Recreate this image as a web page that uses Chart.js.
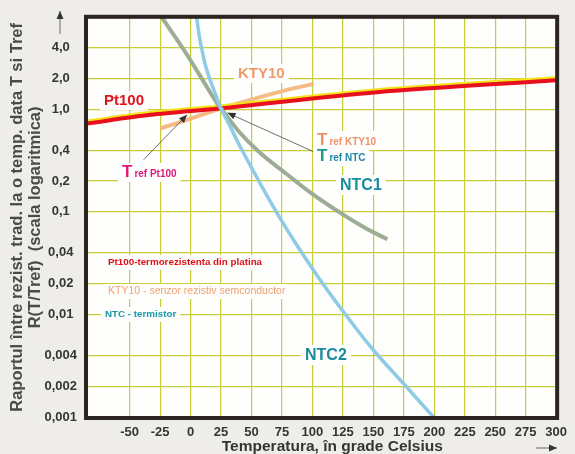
<!DOCTYPE html>
<html><head><meta charset="utf-8">
<script src="https://cdn.jsdelivr.net/npm/chart.js@4/dist/chart.umd.min.js"></script>
<style>html,body{margin:0;padding:0;background:#eeede9;}#wrap{width:575px;height:454px;position:relative;}canvas{display:block}</style>
</head><body><div id="wrap"><canvas id="c" width="575" height="454"></canvas></div>
<script>
// ---- data ----
const xTicks = [-50,-25,0,25,50,75,100,125,150,175,200,225,250,275,300];
const yTicks = [0.001,0.002,0.004,0.01,0.02,0.04,0.1,0.2,0.4,1,2,4];
const yTickLabels = ['0,001','0,002','0,004','0,01','0,02','0,04','0,1','0,2','0,4','1,0','2,0','4,0'];

const pt100T = [-85,-33,24,153,300];
const pt100R = [0.727,0.883,1.02,1.47,1.92];
const kty10T = [-25,0,25,72,101];
const kty10R = [0.65,0.81,1.02,1.47,1.77];
const ntc1T = [-24,-6,7.6,21,25,40,56,78,99,121,143,161.5];
const ntc1R = [8.0,3.87,2.14,1.18,1.02,0.60,0.386,0.238,0.152,0.101,0.07,0.054];
const ntc2T = [4.9,7.6,13,19.8,25,33.3,40,56.2,72.4,88.6,110,130,150,175,199.3];
const ntc2R = [7.9,4.84,2.48,1.47,1.02,0.65,0.449,0.198,0.091,0.0447,0.0188,0.009,0.0045,0.0021,0.001];

const pts = (xs, ys) => xs.map((x,i)=>({x:x, y:ys[i]}));
const FONT = "'Liberation Sans', Arial, sans-serif";

function drawParts(ctx, parts, x, y, box){
  let w = 0;
  parts.forEach(p=>{ ctx.font = p.font; w += ctx.measureText(p.text).width + (p.gap||0); });
  if (box){
    ctx.fillStyle = '#fefefc';
    ctx.fillRect(x-4, y-box, w+8, box+5);
  }
  let cx = x;
  parts.forEach(p=>{
    ctx.font = p.font; ctx.fillStyle = p.color; ctx.textBaseline='alphabetic'; ctx.textAlign='left';
    ctx.fillText(p.text, cx, y);
    cx += ctx.measureText(p.text).width + (p.gap||0);
  });
}
function arrow(ctx, x1,y1,x2,y2){
  ctx.save();
  ctx.strokeStyle='#4a4a4a'; ctx.fillStyle='#333'; ctx.lineWidth=0.8;
  ctx.beginPath(); ctx.moveTo(x1,y1); ctx.lineTo(x2,y2); ctx.stroke();
  const a=Math.atan2(y2-y1,x2-x1), L=8, H=3.5;
  ctx.beginPath(); ctx.moveTo(x2,y2);
  ctx.lineTo(x2-L*Math.cos(a)+H*Math.sin(a), y2-L*Math.sin(a)-H*Math.cos(a));
  ctx.lineTo(x2-L*Math.cos(a)-H*Math.sin(a), y2-L*Math.sin(a)+H*Math.cos(a));
  ctx.closePath(); ctx.fill();
  ctx.restore();
}

const labels = [
  {x:104,y:105,box:14,parts:[{text:'Pt100',font:'bold 15px '+FONT,color:'#e3121c'}]},
  {x:238,y:78,box:14,parts:[{text:'KTY10',font:'bold 15px '+FONT,color:'#f09a6a'}]},
  {x:122,y:177,box:14,parts:[{text:'T',font:'bold 17px '+FONT,color:'#e0187a',gap:2},{text:'ref Pt100',font:'bold 10px '+FONT,color:'#e0187a'}]},
  {x:317,y:145,box:14,parts:[{text:'T',font:'bold 17px '+FONT,color:'#f0906a',gap:2},{text:'ref KTY10',font:'bold 10px '+FONT,color:'#f0906a'}]},
  {x:317,y:161,box:14,parts:[{text:'T',font:'bold 17px '+FONT,color:'#1a9a8a',gap:2},{text:'ref NTC',font:'bold 10px '+FONT,color:'#1a8aa5'}]},
  {x:340,y:190,box:15,parts:[{text:'NTC1',font:'bold 16px '+FONT,color:'#1a8c9e'}]},
  {x:305,y:360,box:15,parts:[{text:'NTC2',font:'bold 16px '+FONT,color:'#1a8c9e'}]},
  {x:108,y:265,box:10,parts:[{text:'Pt100-termorezistenta din platina',font:'bold 9.8px '+FONT,color:'#e01018'}]},
  {x:108,y:294,box:10,parts:[{text:'KTY10 - senzor rezistiv semconductor',font:'10.5px '+FONT,color:'#f0a070'}]},
  {x:105,y:317,box:10,parts:[{text:'NTC - termistor',font:'bold 9.8px '+FONT,color:'#1a98a8'}]}
];

const decor = {
  id:'decor',
  beforeDraw(chart){
    const {ctx, chartArea:a} = chart;
    ctx.save();
    ctx.fillStyle='#eeede9'; ctx.fillRect(0,0,chart.width,chart.height);
    ctx.fillStyle='#fefefc'; ctx.fillRect(a.left,a.top,a.right-a.left,a.bottom-a.top);
    ctx.restore();
  },
  beforeDatasetsDraw(chart){
    const ctx = chart.ctx;
    ctx.save();
    labels.forEach(l=>drawParts(ctx,l.parts,l.x,l.y,l.box));
    ctx.restore();
  },
  beforeDatasetDraw(chart,args){
    if (args.index===0){ const ctx=chart.ctx; ctx.save(); ctx.shadowColor='#f4e21c'; ctx.shadowOffsetY=-2; ctx.shadowBlur=0; }
  },
  afterDatasetDraw(chart,args){
    if (args.index===0){ chart.ctx.restore(); }
  },
  afterDatasetsDraw(chart){
    const {ctx, chartArea:a, scales:{x,y}} = chart;
    arrow(ctx, x.getPixelForValue(-38.5), y.getPixelForValue(0.323), x.getPixelForValue(-2.9), y.getPixelForValue(0.883));
    arrow(ctx, x.getPixelForValue(100.7), y.getPixelForValue(0.387), x.getPixelForValue(30.3), y.getPixelForValue(0.923));
    ctx.save();
    ctx.strokeStyle='#2b2420'; ctx.lineWidth=4;
    ctx.strokeRect(a.left-1,a.top-1,a.right-a.left+2,a.bottom-a.top+2);
    ctx.restore();
    arrow(ctx, 60, 34, 60, 11);
    arrow(ctx, 536, 448, 557, 448);
  }
};

new Chart(document.getElementById('c'), {
  type:'line',
  data:{ datasets:[
    {label:'Pt100', data:pts(pt100T,pt100R), borderColor:'#e8101c', borderWidth:4, tension:0.3, pointRadius:0, order:3},
    {label:'KTY10', data:pts(kty10T,kty10R), borderColor:'#f4bb85', borderWidth:4, tension:0.3, pointRadius:0, order:4},
    {label:'NTC1', data:pts(ntc1T,ntc1R), borderColor:'#9dac95', borderWidth:4, tension:0.4, pointRadius:0, order:2},
    {label:'NTC2', data:pts(ntc2T,ntc2R), borderColor:'#8ecbe6', borderWidth:3.5, tension:0.4, pointRadius:0, order:1}
  ]},
  options:{
    responsive:false, animation:false, devicePixelRatio:1,
    layout:{padding:{left:0,top:17,right:15,bottom:0}},
    plugins:{legend:{display:false}, tooltip:{enabled:false}},
    scales:{
      x:{ type:'linear', min:-85, max:300,
        afterBuildTicks(s){ s.ticks = xTicks.map(v=>({value:v})); },
        afterFit(s){ s.height = 37; },
        grid:{color:'#c7cd38', lineWidth:1.2, drawTicks:false},
        border:{display:false},
        ticks:{padding:8, color:'#353532', font:{family:FONT, size:13, weight:'bold'}, maxRotation:0, autoSkip:false, callback:(v)=>String(v)},
        title:{display:true, text:'\u00a0\u00a0\u00a0\u00a0\u00a0Temperatura, în grade Celsius', color:'#353532', font:{family:FONT,size:15.5,weight:'bold',lineHeight:1.0}, padding:{top:0,bottom:0}}
      },
      y:{ type:'logarithmic', min:0.001, max:7.8,
        afterBuildTicks(s){ s.ticks = yTicks.map(v=>({value:v})); },
        afterFit(s){ s.width = 87; },
        grid:{color:'#c7cd38', lineWidth:1.2, drawTicks:false},
        border:{display:false},
        ticks:{padding:10, crossAlign:'center', color:'#353532', font:{family:FONT, size:13, weight:'bold'}, autoSkip:false,
          callback:(v)=>{ const i = yTicks.findIndex(t=>Math.abs(t-v)/t<1e-6); return i>=0 ? yTickLabels[i] : ''; }},
        title:{display:true, text:['Raportul între rezist. trad. la o temp. data T si Tref','R(T/Tref)  (scala logaritmica)'], color:'#4a4a46', font:{family:FONT,size:16.5,weight:'bold',lineHeight:1.09}, padding:{top:8,bottom:0}}
      }
    }
  },
  plugins:[decor]
});
</script></body></html>
